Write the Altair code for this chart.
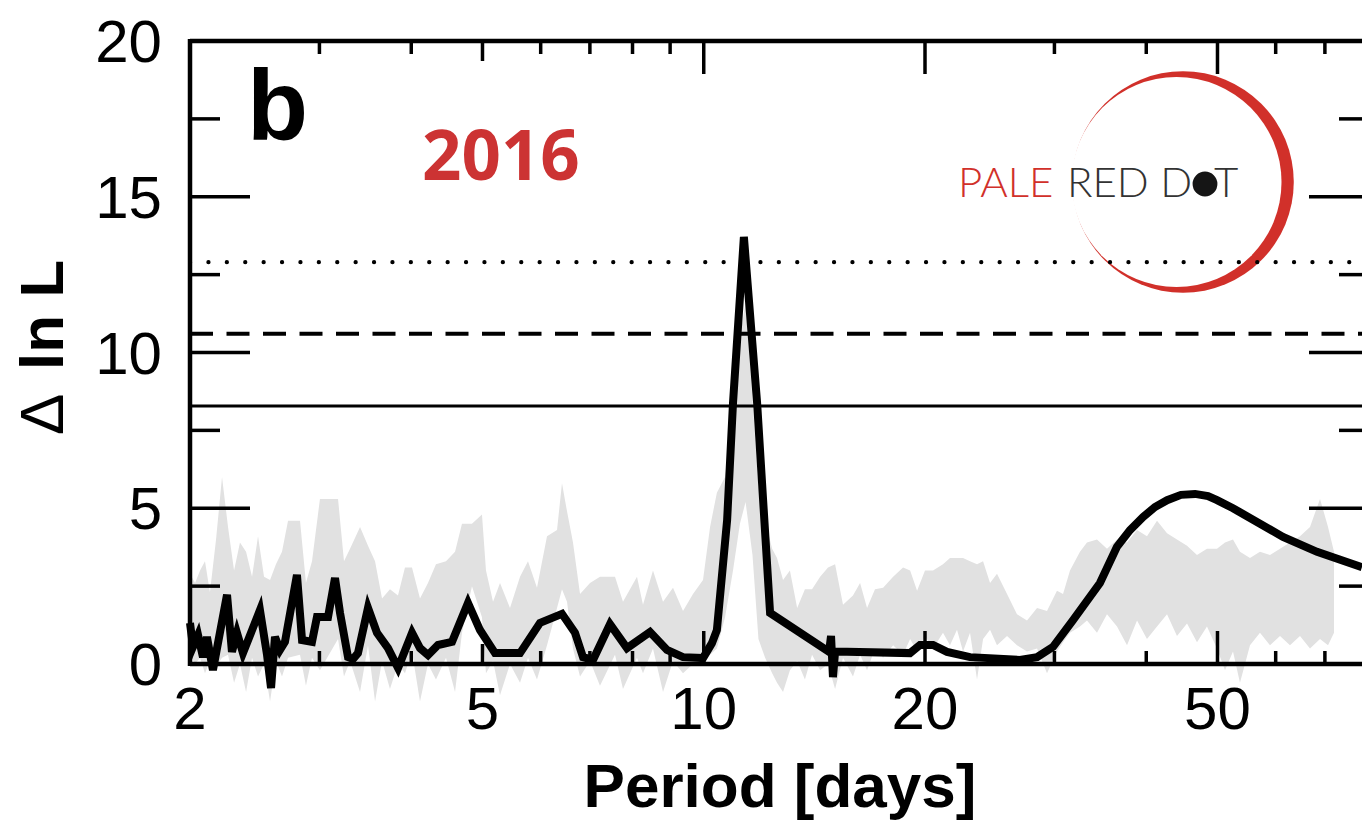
import altair as alt
import pandas as pd

# ---------------------------------------------------------------------------
# Likelihood periodogram (black curve): period [days] and Delta ln L
# ---------------------------------------------------------------------------
line_period = [2.000, 2.019, 2.051, 2.083, 2.109, 2.149, 2.246, 2.281, 2.317, 2.361,
               2.490, 2.546, 2.578, 2.610, 2.651, 2.693, 2.796, 2.841, 2.931, 2.977,
               3.082, 3.150, 3.200, 3.281, 3.333, 3.385, 3.493, 3.593, 3.719, 3.838,
               4.010, 4.111, 4.216, 4.350, 4.545, 4.778, 4.961, 5.200, 5.624, 5.987,
               6.414, 6.681, 6.851, 7.069, 7.455, 7.863, 8.451, 8.913, 9.371, 9.977,
               10.26, 10.42, 10.76, 10.96, 11.34, 11.82, 12.31, 14.81, 14.90, 14.99,
               15.09, 15.66, 19.08, 19.69, 20.51, 21.43, 23.03, 26.93, 28.41, 29.87,
               31.80, 34.60, 36.49, 38.01, 39.61, 41.11, 42.70, 44.60, 46.61, 48.54,
               49.93, 52.49, 55.36, 61.39, 68.30, 78.63]
line_value = [1.32, 0.55, 0.93, 0.22, 0.87, -0.19, 2.22, 0.39, 1.00, 0.35,
              1.73, 0.29, -0.77, 0.87, 0.45, 0.71, 2.86, 0.77, 0.71, 1.51,
              1.51, 2.76, 1.64, 0.22, 0.16, 0.35, 1.80, 1.00, 0.51, -0.13,
              1.00, 0.51, 0.29, 0.61, 0.71, 1.96, 1.09, 0.35, 0.35, 1.32,
              1.61, 1.00, 0.22, 0.13, 1.28, 0.51, 1.03, 0.45, 0.22, 0.19,
              0.67, 1.09, 4.62, 8.38, 13.71, 8.38, 1.64, 0.39, 0.90, -0.42,
              0.39, 0.39, 0.35, 0.61, 0.61, 0.39, 0.22, 0.13, 0.22, 0.55,
              1.41, 2.60, 3.76, 4.30, 4.72, 5.04, 5.26, 5.43, 5.46, 5.39,
              5.26, 5.00, 4.69, 4.08, 3.60, 3.11]

# ---------------------------------------------------------------------------
# Grey envelope (range of the comparison periodograms)
# ---------------------------------------------------------------------------
band_period = [2.000, 2.032, 2.064, 2.096, 2.129, 2.170, 2.211, 2.253, 2.296, 2.339,
               2.384, 2.429, 2.475, 2.522, 2.570, 2.618, 2.668, 2.719, 2.823, 2.876,
               2.931, 3.005, 3.180, 3.240, 3.302, 3.407, 3.493, 3.571, 3.650, 3.742,
               3.837, 3.922, 4.009, 4.111, 4.215, 4.322, 4.460, 4.588, 4.689, 4.838,
               4.992, 5.055, 5.168, 5.282, 5.450, 5.624, 5.766, 5.931, 6.120, 6.315,
               6.414, 6.516, 6.639, 6.787, 7.003, 7.225, 7.573, 7.765, 8.113, 8.267,
               8.530, 8.802, 9.082, 9.371, 9.669, 9.977, 10.20, 10.42, 10.69, 10.96,
               11.20, 11.40, 11.65, 11.87, 12.12, 12.39, 12.58, 12.82, 13.10, 13.40,
               13.73, 14.04, 14.40, 14.76, 15.09, 15.47, 15.96, 16.32, 16.68, 17.10,
               17.54, 18.10, 18.67, 19.09, 19.51, 20.00, 20.51, 21.16, 21.63, 22.11,
               22.53, 23.03, 23.54, 23.99, 24.52, 25.06, 25.86, 26.68, 27.53, 28.41,
               29.31, 30.24, 30.82, 31.50, 32.50, 33.22, 34.28, 35.37, 36.50, 37.66,
               38.86, 40.09, 41.37, 42.69, 44.04, 45.45, 46.89, 48.38, 49.92, 51.19,
               52.49, 53.65, 55.36, 57.12, 58.94, 60.82, 62.75, 64.75, 66.81, 68.94,
               70.69, 72.03]
band_upper = [2.9, 2.6, 3.0, 3.3, 2.3, 4.0, 6.0, 4.4, 3.0, 3.9,
              3.6, 2.8, 4.1, 2.8, 2.7, 3.2, 3.6, 4.6, 4.6, 2.6,
              3.3, 5.3, 5.3, 3.3, 3.7, 4.4, 3.8, 3.3, 2.1, 2.4,
              2.2, 3.1, 3.1, 2.1, 2.6, 3.2, 3.3, 3.6, 4.5, 4.5,
              4.8, 3.0, 2.0, 2.6, 1.8, 2.8, 3.3, 2.45, 4.1, 4.3,
              5.8, 4.9, 3.9, 2.25, 2.6, 2.8, 2.8, 2.0, 2.8, 1.9,
              3.0, 2.0, 2.45, 1.7, 2.25, 2.7, 4.4, 5.5, 6.0, 8.0,
              10.5, 11.6, 8.5, 5.7, 4.6, 3.7, 3.4, 2.7, 3.0, 1.8,
              2.4, 2.4, 2.8, 3.1, 3.2, 1.9, 2.2, 2.6, 1.8, 2.4,
              2.45, 2.8, 3.1, 3.0, 2.35, 3.0, 3.0, 3.2, 3.4, 3.4,
              3.4, 3.3, 3.2, 3.3, 2.6, 2.9, 2.25, 1.6, 1.4, 1.8,
              1.7, 2.35, 2.25, 3.0, 3.6, 3.9, 4.0, 3.7, 4.0, 3.9,
              4.3, 4.1, 4.6, 4.2, 4.0, 3.8, 3.5, 3.7, 3.7, 3.9,
              4.0, 3.6, 3.4, 3.6, 3.5, 3.7, 3.9, 4.1, 4.4, 5.3,
              4.4, 3.6]
band_lower = [0.3, 0.0, 0.2, -0.3, 0.1, -0.1, 0.2, 0.3, -0.6, 0.0,
              -0.9, 0.2, -0.4, 0.0, -1.2, 0.1, -0.4, 0.2, 0.3, -0.7,
              0.2, -0.2, 0.8, -0.4, 0.1, -0.9, 0.6, -1.2, 0.1, -0.8,
              0.0, -0.3, 0.4, -1.2, 0.0, -0.5, 0.2, -0.9, 1.0, 2.5,
              1.5, -0.3, 0.1, -1.0, 0.0, -0.6, 0.2, -0.5, 0.6, 1.8,
              2.4, 2.0, 0.5, -0.4, 0.1, -0.7, 0.3, -0.8, 0.2, -0.3,
              0.5, -0.9, 0.1, -0.3, 0.0, 0.2, 0.3, 0.5, 1.5, 3.0,
              4.5, 5.2, 3.5, 0.8, 0.2, -0.3, -0.6, -0.9, -0.2, 0.1,
              -0.5, 0.3, -0.2, 0.0, -0.8, 0.2, -0.4, 0.3, -0.2, 0.5,
              0.2, 0.6, 0.3, 0.8, 0.4, 0.9, 0.5, 1.0, 0.6, 1.1,
              0.4, 1.0, -0.5, 0.8, 1.1, 0.6, 0.9, 0.6, 0.4, 0.5,
              -0.3, 0.4, 0.7, 1.0, 1.2, 1.4, 1.0, 1.6, 1.2, 0.6,
              1.4, 0.8, 1.2, 1.6, 0.9, 1.3, 0.7, 1.2, 0.5, -0.2,
              0.4, -0.6, 0.6, 1.0, 0.6, 0.9, 0.6, 0.9, 0.5, 0.8,
              0.6, 1.0]

# False-alarm thresholds (10 %, 1 %, 0.1 %)
fap_solid = [8.28]
fap_dashed = [10.6]
fap_dotted = [12.9]

# Axis tick positions and labels
x_labels = [2, 5, 10, 20, 50]
x_ticks_long = [10, 20, 50]
x_ticks_mid = [5]
x_ticks_short = [3, 4, 6, 7, 8, 9, 30, 40, 60, 70]
y_labels = [0, 5, 10, 15, 20]
y_ticks_major = [5, 10, 15]
y_ticks_minor = [2.5, 7.5, 12.5, 17.5]

assert len(line_period) == len(line_value)
assert len(band_period) == len(band_upper) == len(band_lower)

# ---------------------------------------------------------------------------
W, H = 1172, 623
FONT = "Liberation Sans"
RED = "#d1302a"
GREY = "#e1e1e1"

line_df = pd.DataFrame({"period": line_period, "value": line_value})
band_df = pd.DataFrame({"period": band_period, "upper": band_upper, "lower": band_lower})

xs = alt.Scale(type="log", domain=[2, 78.63], nice=False)
ys = alt.Scale(domain=[0, 20], nice=False, zero=False)

def X(field="period"):
    return alt.X(f"{field}:Q", scale=xs, axis=None)

def Y(field="value"):
    return alt.Y(f"{field}:Q", scale=ys, axis=None)

one = alt.Data(values=[{"k": 1}])

def label(text, x, y, **style):
    return alt.Chart(one).mark_text(text=text, **style).encode(x=alt.value(x), y=alt.value(y))

# Pale Red Dot logo
def disc(x, y, size, color):
    return alt.Chart(one).mark_point(shape="circle", filled=True, size=size, color=color,
                                     opacity=1, strokeWidth=0).encode(
        x=alt.value(x), y=alt.value(y))

logo_ring = disc(993, 141, 49087, RED)
logo_hole = disc(986.5, 141, 44115, "white")
logo_style = dict(font="Lato", fontSize=42, fontWeight=300, align="left", baseline="alphabetic")
logo_pale = label("PALE", 768, 156, color=RED, **logo_style)
logo_red = label("RED D", 877, 156, color="#333333", **logo_style)
logo_t = label("T", 1024, 156, color="#333333", **logo_style)
logo_dot = disc(1015, 143, 616, "#151515")

# Grey envelope
band = alt.Chart(band_df).mark_area(color=GREY, opacity=1).encode(
    x=X(), y=Y("upper"), y2="lower:Q")

# Threshold lines
def hline(vals, **style):
    return alt.Chart(pd.DataFrame({"value": vals})).mark_rule(color="black", **style).encode(
        y=Y(), x=alt.value(0), x2=alt.value(W))

thr_solid = hline(fap_solid, strokeWidth=3)
thr_dashed = hline(fap_dashed, strokeWidth=4, strokeDash=[23, 13.5])
thr_dotted = hline(fap_dotted, strokeWidth=4.2, strokeDash=[0.1, 18.3], strokeCap="round")

# Periodogram
curve = alt.Chart(line_df).mark_line(color="black", strokeWidth=8).encode(x=X(), y=Y())

# Frame
def seg(**enc):
    return alt.Chart(one).mark_rule(color="black", strokeWidth=4.5).encode(**enc)

frame_top = seg(x=alt.value(0), x2=alt.value(W + 20), y=alt.value(0))
frame_bottom = seg(x=alt.value(0), x2=alt.value(W + 20), y=alt.value(H))
frame_left = seg(x=alt.value(0), y=alt.value(-2), y2=alt.value(H + 2))

# Inward-pointing ticks on all four sides
def xticks(vals, length):
    base = alt.Chart(pd.DataFrame({"period": vals})).mark_rule(color="black", strokeWidth=3.5)
    return [base.encode(x=X(), y=alt.value(H), y2=alt.value(H - length)),
            base.encode(x=X(), y=alt.value(0), y2=alt.value(length))]

def yticks(vals, length):
    base = alt.Chart(pd.DataFrame({"value": vals})).mark_rule(color="black", strokeWidth=3.5)
    return [base.encode(y=Y(), x=alt.value(0), x2=alt.value(length)),
            base.encode(y=Y(), x=alt.value(W + 7), x2=alt.value(W + 7 - length))]

tick_layers = (xticks(x_ticks_long, 33) + xticks(x_ticks_mid, 20) + xticks(x_ticks_short, 13)
               + yticks(y_ticks_major, 60) + yticks(y_ticks_minor, 30))

# Tick labels
x_tick_labels = alt.Chart(pd.DataFrame({"period": x_labels})).mark_text(
    font=FONT, fontSize=60, color="black", align="center", baseline="top").encode(
    x=X(), y=alt.value(H + 18), text=alt.Text("period:Q", format="d"))
y_tick_labels = alt.Chart(pd.DataFrame({"value": y_labels})).mark_text(
    font=FONT, fontSize=60, color="black", align="right", baseline="middle", dy=3).encode(
    y=Y(), x=alt.value(-28), text=alt.Text("value:Q", format="d"))

# Axis titles, panel letter and year
x_title = label("Period [days]", 590, H + 143, font=FONT, fontSize=62, fontWeight="bold",
                color="black", align="center", baseline="alphabetic")
ytitle_delta = label("Δ", -127, 394, font=FONT, fontSize=62, angle=270, color="black",
                     align="left", baseline="alphabetic")
ytitle_rest = label("ln L", -127, 329, font=FONT, fontSize=62, fontWeight="bold", angle=270,
                    color="black", align="left", baseline="alphabetic")
panel_b = label("b", 57, 99, font=FONT, fontSize=100, fontWeight="bold", color="black",
                align="left", baseline="alphabetic")
year = label("2016", 232, 139, font="Open Sans", fontSize=69, fontWeight="bold",
             color="#cc3333", align="left", baseline="alphabetic")

chart = alt.layer(
    logo_ring, logo_hole, logo_pale, logo_red, logo_t, logo_dot,
    band, thr_solid, thr_dashed, thr_dotted, curve,
    frame_top, frame_bottom, frame_left, *tick_layers,
    x_tick_labels, y_tick_labels, x_title, ytitle_delta, ytitle_rest, panel_b, year,
).properties(
    width=W, height=H,
    padding={"left": 190, "top": 41, "right": 0, "bottom": 158},
    autosize=alt.AutoSizeParams(type="none"),
    background="white",
).configure_view(stroke=None)

chart.save("out.html", embed_options={"renderer": "svg", "actions": False})
